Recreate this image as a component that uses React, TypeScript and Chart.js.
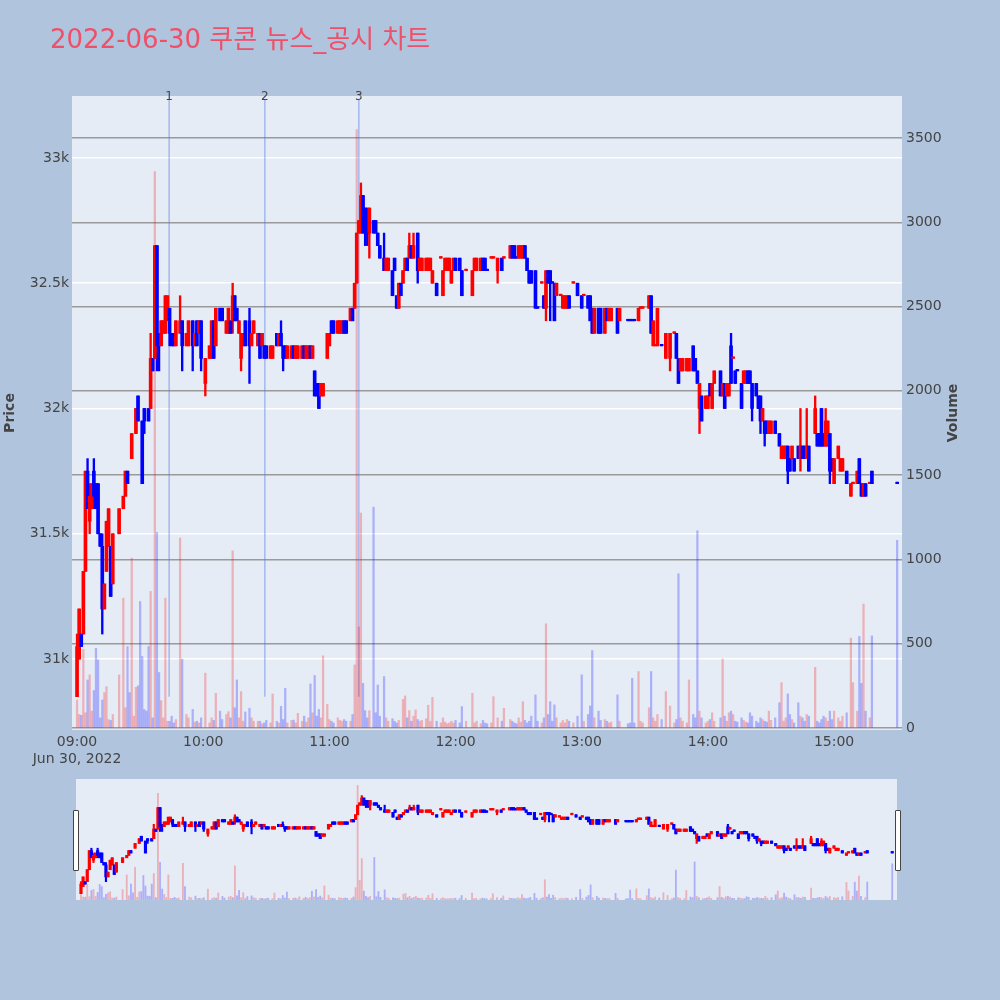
import React, { useEffect, useRef } from 'react';
import { Chart, registerables } from 'chart.js';

Chart.register(...registerables);

// ---------------- data ----------------
const TITLE = '2022-06-30 쿠콘 뉴스_공시 차트';
const DATE_LABEL = 'Jun 30, 2022';
const priceTicks = [31000, 31500, 32000, 32500, 33000];
const volumeTicks = [0, 500, 1000, 1500, 2000, 2500, 3000, 3500];
const timeTicks = [0, 60, 120, 180, 240, 300, 360];
const timeLabels = ['09:00', '10:00', '11:00', '12:00', '13:00', '14:00', '15:00'];
const newsMinutes = [43.8, 89.3, 134];
const newsLabels = ['1', '2', '3'];

// [minute after 09:00, open, close, high?, low?]
const candles: number[][] = [
  [0,30850,31050,31100,30850],[1,31000,31200],[2,31100,31050],[3,31100,31350],[4,31350,31750],
  [5,31750,31600,31800],[6,31550,31650,31700,31500],[7,31600,31700],[8,31750,31650,31800,31600],
  [9,31700,31600],[10,31700,31500],[11,31500,31450],[12,31450,31200,31500,31100],[13,31200,31300],
  [14,31350,31550],[15,31450,31600],[16,31450,31250],[17,31300,31500],[20,31500,31600],[22,31600,31650],
  [23,31650,31750],[24,31750,31700],[26,31800,31900],[28,31900,32000],[29,32050,31950],[31,31950,31700],
  [32,32000,31950,32000,31900],[34,32000,31950],[35,32000,32200,32300],[36,32200,32150],[37,32200,32650],
  [38,32650,32250,32650,32150],[39,32300,32250,32300,32150],[40,32250,32350],[41,32300,32350],
  [42,32300,32450],[43,32350,32450],[44,32400,32300,32400,32250],[45,32300,32250],[46,32300,32250],
  [47,32250,32350],[49,32300,32350,32450],[50,32350,32250,32350,32150],[52,32250,32300],[53,32250,32350],
  [55,32350,32250,32350,32150],[56,32250,32300],[57,32350,32250],[58,32300,32350],[59,32350,32200,32350,32150],
  [61,32100,32200,32200,32050],[63,32200,32250],[64,32200,32350],[65,32350,32200],[66,32250,32400],
  [68,32400,32350],[69,32400,32350],[71,32300,32350],[72,32300,32400],[73,32350,32300],
  [74,32350,32450,32500,32300],[75,32450,32350],[76,32400,32350],[77,32300,32350],[78,32200,32300,32300,32150],
  [79,32250,32300],[80,32350,32250],[82,32350,32250,32400,32100],[83,32250,32300],[84,32300,32350],
  [86,32250,32300],[87,32300,32200],[88,32250,32300],[89,32250,32200],[90,32250,32200],[92,32200,32250],
  [93,32200,32250],[95,32300,32250],[96,32250,32300],[97,32300,32250,32350],[98,32250,32200,32250,32150],
  [99,32250,32200],[100,32200,32250],[102,32200,32250],[103,32250,32200],[104,32200,32250],[105,32200,32250],
  [107,32200,32250],[108,32250,32200],[109,32200,32250],[110,32200,32250],[111,32250,32200],[112,32200,32250],
  [113,32150,32050],[114,32100,32050],[115,32100,32000],[116,32050,32100],[117,32050,32100],[119,32200,32300],
  [120,32250,32300],[121,32350,32300],[122,32350,32300],[124,32300,32350],[125,32300,32350],[126,32300,32350],
  [127,32350,32300],[128,32350,32300],[130,32350,32400],[131,32400,32350],[132,32400,32500],[133,32500,32700],
  [134,32700,32750],[135,32700,32850,32900],[136,32850,32700],[137,32800,32700,32800,32650],
  [138,32750,32700,32800,32650],[139,32700,32800,32800,32600],[141,32750,32700],[142,32750,32700],
  [143,32700,32650],[144,32650,32600],[146,32600,32550,32700],[147,32550,32600],[148,32550,32600],
  [150,32550,32450],[151,32600,32550],[152,32450,32400],[153,32400,32500],[154,32500,32450],[155,32500,32550],
  [156,32550,32600],[157,32600,32550],[158,32600,32650,32700],[159,32650,32600],[160,32600,32650,32700],
  [162,32700,32550,32700,32500],[163,32550,32600],[164,32550,32600],[166,32550,32600],[167,32550,32600],
  [168,32550,32600],[169,32500,32550],[171,32500,32450],[173,32600,32600],[174,32450,32550],[175,32550,32600],
  [176,32550,32600],[177,32550,32600],[178,32500,32550],[179,32550,32600],[180,32600,32550],[182,32600,32550],
  [183,32550,32450],[185,32550,32550],[188,32450,32550],[189,32550,32600],[190,32550,32600],[192,32550,32600],
  [193,32600,32550],[194,32600,32550],[195,32550,32550],[197,32600,32600],[198,32600,32600],
  [200,32550,32600,32600,32500],[202,32600,32550],[203,32600,32600],[206,32600,32650],[207,32650,32600],
  [208,32650,32600],[209,32600,32600],[210,32600,32650],[211,32600,32650],[212,32600,32650],[213,32650,32600],
  [214,32600,32550],[215,32550,32500],[216,32550,32500],[218,32550,32400],[219,32400,32400],[221,32500,32500],
  [222,32450,32400],[223,32400,32550,32550,32350],[224,32550,32500],[225,32550,32500,32550,32350],
  [226,32500,32500],[227,32500,32350],[228,32450,32500],[230,32450,32450],[231,32400,32450],[232,32400,32450],
  [233,32400,32450],[234,32450,32400],[236,32500,32500],[238,32500,32450],[240,32450,32400],[241,32450,32450],
  [243,32450,32400],[244,32450,32350],[245,32400,32300],[246,32300,32400],[248,32400,32300],[249,32400,32300],
  [251,32300,32400],[252,32400,32350],[253,32350,32400],[254,32350,32400],[257,32400,32300],[258,32350,32400],
  [262,32350,32350],[263,32350,32350],[264,32350,32350],[265,32350,32350],[267,32350,32400],[268,32400,32400],
  [269,32400,32400],[272,32400,32450],[273,32450,32300],[274,32250,32350],[275,32250,32250],[276,32250,32400],
  [278,32250,32250],[280,32200,32300],[282,32200,32300,32300,32150],[284,32300,32300],[285,32300,32200],
  [286,32200,32100],[287,32150,32200],[288,32150,32200],[290,32150,32200],[291,32150,32200],[293,32250,32150],
  [294,32200,32150],[295,32150,32100],[296,32000,32100,32100,31900],[297,32050,31950],[299,32000,32050],
  [300,32000,32050],[301,32100,32050],[302,32000,32100],[303,32100,32150],[306,32150,32050],[307,32050,32100],
  [308,32100,32000],[309,32050,32100],[310,32050,32100],[311,32250,32100,32300],[312,32200,32200],
  [313,32150,32100],[314,32150,32150],[316,32100,32000],[317,32100,32150],[318,32100,32150],[319,32150,32100],
  [320,32150,32100],[321,32100,32000,32100,31950],[323,32100,32050],[324,32050,32000],
  [325,32050,31950,32050,31900],[326,31950,32000],[327,31950,31900,31950,31850],[328,31950,31900],
  [329,31900,31950],[330,31900,31950],[332,31950,31900],[334,31900,31850],[335,31800,31850],[336,31800,31850],
  [337,31800,31850],[338,31850,31750,31850,31700],[339,31800,31750],[340,31800,31850],[341,31800,31750],
  [343,31850,31800],[344,31800,31850,32000,31750],[345,31850,31800],[346,31850,31800],[347,31800,31850,32000],
  [348,31850,31750],[351,31900,32000,32050],[352,31900,31850],[353,31900,31850],[354,32000,31850],
  [355,31900,31850],[356,31850,31950,32000],[357,31850,31950],[358,31900,31750,31900,31700],[359,31800,31750],
  [360,31700,31800],[362,31800,31850],[363,31750,31800],[364,31750,31800],[366,31750,31700],[368,31650,31700],
  [369,31700,31700],[371,31700,31750],[372,31800,31700],[373,31700,31650],[374,31650,31700],[375,31700,31650],
  [377,31700,31700],[378,31750,31700],[390,31700,31700],
];

// flat (open = close) candles drawn in the "up" colour
const flatUpMinutes = [173, 185, 197, 198, 203, 221, 230, 236, 241, 268, 269, 275, 284, 312, 369, 377];

// [minute after 09:00, volume]
const volumes: number[][] = [
  [0,166],[1,80],[2,75],[3,467],[4,90],[5,285],[6,315],[7,100],[8,222],[9,473],[10,404],[11,60],[12,166],
  [13,210],[14,245],[15,50],[16,45],[17,80],[20,315],[22,770],[23,120],[24,483],[25,210],[26,1008],[27,70],
  [28,241],[29,250],[30,750],[31,424],[32,110],[33,100],[34,483],[35,810],[36,60],[37,3300],[38,1160],
  [39,329],[40,162],[41,60],[42,770],[43,40],[44,40],[45,70],[46,30],[47,50],[49,1127],[50,408],[52,80],
  [53,60],[55,110],[56,35],[57,40],[58,30],[59,60],[61,325],[63,30],[64,60],[65,45],[66,206],[68,100],
  [69,50],[71,80],[72,97],[73,60],[74,1051],[75,120],[76,285],[77,60],[78,216],[79,40],[80,95],[82,117],
  [83,60],[84,40],[86,40],[87,40],[88,25],[89,30],[90,45],[92,30],[93,202],[95,40],[96,30],[97,128],
  [98,50],[99,235],[100,30],[102,45],[103,47],[104,30],[105,87],[107,40],[108,70],[109,35],[110,60],
  [111,261],[112,90],[113,311],[114,70],[115,110],[116,60],[117,428],[119,140],[120,50],[121,40],[122,30],
  [124,60],[125,45],[126,40],[127,50],[128,40],[130,40],[131,80],[132,374],[133,3550],[134,600],[135,1275],
  [136,265],[137,103],[138,60],[139,103],[141,1310],[142,90],[143,255],[144,70],[146,305],[147,60],
  [148,40],[150,55],[151,40],[152,30],[153,45],[155,170],[156,190],[157,60],[158,103],[159,40],[160,70],
  [161,107],[162,50],[163,40],[164,45],[166,55],[167,135],[168,40],[169,182],[171,40],[173,30],[174,60],
  [175,35],[176,25],[177,30],[178,40],[179,30],[180,45],[182,30],[183,127],[185,40],[188,206],[189,30],
  [190,40],[192,25],[193,45],[194,30],[195,25],[197,30],[198,186],[200,60],[202,40],[203,117],[206,50],
  [207,40],[208,30],[209,25],[210,60],[211,35],[212,156],[213,45],[214,30],[215,40],[216,70],[218,196],
  [219,40],[221,30],[222,60],[223,618],[224,80],[225,156],[226,40],[227,137],[228,60],[230,30],[231,45],
  [232,30],[233,50],[234,40],[236,30],[238,70],[240,315],[241,40],[243,80],[244,130],[245,459],[246,60],
  [248,100],[249,45],[251,50],[252,40],[253,30],[254,35],[257,196],[258,40],[262,25],[263,30],[264,295],
  [265,30],[267,335],[268,40],[269,30],[272,120],[273,335],[274,60],[275,40],[276,80],[278,50],[280,216],
  [282,130],[284,30],[285,50],[286,915],[287,60],[288,40],[290,30],[291,285],[293,80],[294,60],[295,1170],
  [296,100],[297,60],[299,30],[300,40],[301,50],[302,90],[303,40],[306,60],[307,410],[308,70],[309,40],
  [310,90],[311,100],[312,80],[313,40],[314,35],[316,60],[317,45],[318,35],[319,30],[320,90],[321,70],
  [323,40],[324,30],[325,60],[326,50],[327,40],[328,35],[329,100],[330,45],[332,60],[334,150],[335,269],
  [336,40],[337,60],[338,202],[339,80],[340,50],[341,30],[343,150],[344,70],[345,60],[346,40],[347,80],
  [348,70],[351,360],[352,40],[353,30],[354,50],[355,70],[356,60],[357,40],[358,100],[359,50],[360,100],
  [362,60],[363,40],[364,70],[366,90],[368,533],[369,269],[371,100],[372,543],[373,265],[374,735],
  [375,100],[377,60],[378,546],[390,1113],
];

// ---------------- styling ----------------
const PAGE_BG = '#B0C4DE';
const PLOT_BG = '#E5ECF6';
const UP = '#ff0000';
const DOWN = '#0000ff';
const UP_VOL = 'rgba(255,0,0,0.25)';
const DOWN_VOL = 'rgba(0,0,255,0.25)';
const FONT = "'DejaVu Sans', 'Noto Sans CJK KR', sans-serif";
const X_MIN = -2.4;
const X_MAX = 392.3;
const P_MIN = 30717;
const P_MAX = 33247;
const V_MIN = -12;
const V_MAX = 3749;

function isUp(r: number[]) {
  if (r[2] > r[1]) return true;
  if (r[2] < r[1]) return false;
  return flatUpMinutes.includes(r[0]);
}

function buildDatasets(bodyW: number, wickW: number, volW: number) {
  const body = candles.map((r) => ({ x: r[0], y: [r[1], r[2]] }));
  const wick = candles.map((r) => ({
    x: r[0],
    y: [r.length > 4 ? r[4] : Math.min(r[1], r[2]), r.length > 3 ? r[3] : Math.max(r[1], r[2])],
  }));
  const colors = candles.map((r) => (isUp(r) ? UP : DOWN));
  const volColors = volumes.map(([m]) => {
    let c = candles[0];
    for (const r of candles) {
      if (r[0] <= m) c = r;
      else break;
    }
    return isUp(c) ? UP_VOL : DOWN_VOL;
  });
  return [
    {
      type: 'bar' as const,
      data: body,
      backgroundColor: colors,
      borderWidth: 0,
      barThickness: bodyW,
      minBarLength: 1.5,
      grouped: false,
      yAxisID: 'y',
      order: 1,
    },
    {
      type: 'bar' as const,
      data: wick,
      backgroundColor: colors,
      borderWidth: 0,
      barThickness: wickW,
      minBarLength: 1.5,
      grouped: false,
      yAxisID: 'y',
      order: 2,
    },
    {
      type: 'bar' as const,
      data: volumes.map(([m, v]) => ({ x: m, y: v })),
      backgroundColor: volColors,
      borderWidth: 0,
      barThickness: volW,
      grouped: false,
      yAxisID: 'y1',
      order: 3,
    },
  ];
}

const dayLow = Math.min(...candles.map((r) => (r.length > 4 ? r[4] : Math.min(r[1], r[2]))));

const mainPlugin = {
  id: 'mainDecor',
  beforeDraw(chart: any) {
    const { ctx, chartArea: a } = chart;
    ctx.save();
    ctx.fillStyle = PLOT_BG;
    ctx.fillRect(a.left, a.top, a.right - a.left, a.bottom - a.top);
    ctx.restore();
  },
  beforeDatasetsDraw(chart: any) {
    const { ctx, chartArea: a, scales } = chart;
    ctx.save();
    ctx.strokeStyle = 'rgba(80,120,230,0.45)';
    ctx.lineWidth = 1.5;
    const yLow = scales.y.getPixelForValue(dayLow);
    newsMinutes.forEach((m) => {
      const x = scales.x.getPixelForValue(m);
      ctx.beginPath();
      ctx.moveTo(x, a.top + 4);
      ctx.lineTo(x, yLow);
      ctx.stroke();
    });
    ctx.restore();
  },
  afterDraw(chart: any) {
    const { ctx, chartArea: a, scales } = chart;
    ctx.save();
    // news labels
    ctx.fillStyle = '#444';
    ctx.font = `12px ${FONT}`;
    ctx.textAlign = 'center';
    ctx.textBaseline = 'middle';
    newsMinutes.forEach((m, i) => {
      ctx.fillText(newsLabels[i], scales.x.getPixelForValue(m), a.top + 0.5);
    });
    // title
    ctx.fillStyle = '#EF5069';
    ctx.font = `26px ${FONT}`;
    ctx.textAlign = 'left';
    ctx.textBaseline = 'middle';
    ctx.fillText(TITLE, 50, 41);
    // axis titles
    ctx.fillStyle = '#444';
    ctx.font = `bold 14px ${FONT}`;
    ctx.textAlign = 'center';
    ctx.translate(10, 413);
    ctx.rotate(-Math.PI / 2);
    ctx.fillText('Price', 0, 0);
    ctx.rotate(Math.PI / 2);
    ctx.translate(943, 0);
    ctx.rotate(-Math.PI / 2);
    ctx.fillText('Volume', 0, 0);
    ctx.restore();
  },
};

const sliderPlugin = {
  id: 'sliderDecor',
  beforeDraw(chart: any) {
    const { ctx, chartArea: a } = chart;
    ctx.save();
    ctx.fillStyle = PLOT_BG;
    ctx.fillRect(a.left, a.top, a.right - a.left, a.bottom - a.top);
    ctx.restore();
  },
};

export default function App() {
  const mainRef = useRef<HTMLCanvasElement | null>(null);
  const sliderRef = useRef<HTMLCanvasElement | null>(null);

  useEffect(() => {
    const tickFont = { family: FONT, size: 14 };
    const main = new Chart(mainRef.current as HTMLCanvasElement, {
      type: 'bar',
      data: { datasets: buildDatasets(3, 1.7, 1.6) as any },
      plugins: [mainPlugin],
      options: {
        animation: false,
        responsive: false,
        maintainAspectRatio: false,
        layout: { padding: { top: 96, left: 0, right: 0, bottom: 0 } },
        plugins: { legend: { display: false }, tooltip: { enabled: false }, title: { display: false } },
        scales: {
          x: {
            type: 'linear',
            min: X_MIN,
            max: X_MAX,
            offset: false,
            grid: { display: false, drawTicks: false },
            border: { display: false },
            afterBuildTicks: (s: any) => {
              s.ticks = timeTicks.map((v) => ({ value: v }));
            },
            afterFit: (s: any) => {
              s.height = 50;
            },
            ticks: {
              autoSkip: false,
              maxRotation: 0,
              color: '#444',
              font: tickFont,
              padding: 4,
              callback: (v: any) => {
                const i = timeTicks.indexOf(Number(v));
                return i === 0 ? [timeLabels[0], DATE_LABEL] : timeLabels[i];
              },
            },
          },
          y: {
            type: 'linear',
            position: 'left',
            min: P_MIN,
            max: P_MAX,
            grid: { color: '#ffffff', lineWidth: 1.5, drawTicks: false },
            border: { display: false },
            afterBuildTicks: (s: any) => {
              s.ticks = priceTicks.map((v) => ({ value: v }));
            },
            afterFit: (s: any) => {
              s.width = 72;
            },
            ticks: {
              color: '#444',
              font: tickFont,
              padding: 3,
              callback: (v: any) => `${Number(v) / 1000}k`,
            },
          },
          y1: {
            type: 'linear',
            position: 'right',
            min: V_MIN,
            max: V_MAX,
            grid: { color: '#9a9a9a', lineWidth: 1.5, drawTicks: false },
            border: { display: false },
            afterBuildTicks: (s: any) => {
              s.ticks = volumeTicks.map((v) => ({ value: v }));
            },
            afterFit: (s: any) => {
              s.width = 98;
            },
            ticks: { color: '#444', font: tickFont, padding: 4, callback: (v: any) => `${v}` },
          },
        },
      } as any,
    });

    const slider = new Chart(sliderRef.current as HTMLCanvasElement, {
      type: 'bar',
      data: { datasets: buildDatasets(2.5, 1.5, 1.2) as any },
      plugins: [sliderPlugin],
      options: {
        animation: false,
        responsive: false,
        maintainAspectRatio: false,
        layout: { padding: 0 },
        plugins: { legend: { display: false }, tooltip: { enabled: false }, title: { display: false } },
        scales: {
          x: { type: 'linear', display: false, min: X_MIN, max: X_MAX, offset: false },
          y: { type: 'linear', display: false, min: P_MIN, max: P_MAX },
          y1: { type: 'linear', display: false, min: V_MIN, max: V_MAX },
        },
      } as any,
    });

    return () => {
      main.destroy();
      slider.destroy();
    };
  }, []);

  const handle = (left: number): React.CSSProperties => ({
    position: 'absolute',
    left,
    top: 810,
    width: 4,
    height: 59,
    background: '#ffffff',
    border: '1px solid #444',
    borderRadius: 1,
  });

  return (
    <div style={{ position: 'fixed', left: 0, top: 0, width: 1000, height: 1000, background: PAGE_BG, overflow: 'hidden' }}>
      <canvas ref={mainRef} width={1000} height={780} style={{ position: 'absolute', left: 0, top: 0, width: 1000, height: 780 }} />
      <canvas ref={sliderRef} width={821} height={121} style={{ position: 'absolute', left: 76, top: 779, width: 821, height: 121 }} />
      <div style={handle(73)} />
      <div style={handle(895)} />
    </div>
  );
}
